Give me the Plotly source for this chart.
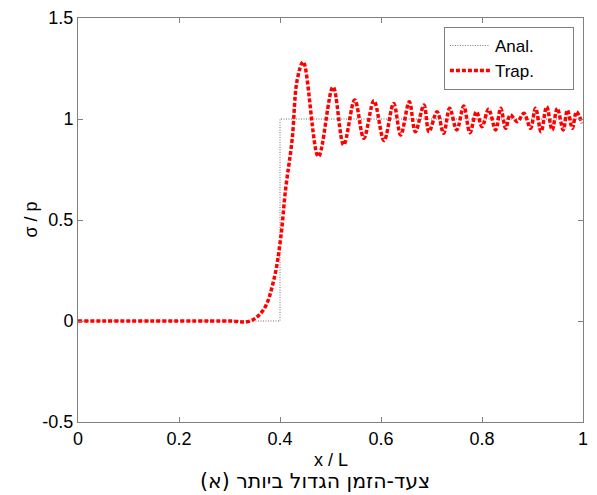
import plotly.graph_objects as go

# Analytical solution (step at x/L = 0.4)
anal_x = [0.0, 0.4, 0.4, 1.0]
anal_y = [0.0, 0.0, 1.0, 1.0]

# Trapezoidal solution
trap_x = [0.0, 0.30, 0.341, 0.368, 0.388, 0.401, 0.411, 0.424, 0.434, 0.446,
          0.476, 0.505, 0.526, 0.548, 0.566, 0.586, 0.606, 0.625, 0.639, 0.656,
          0.668, 0.685, 0.695, 0.711, 0.724, 0.736, 0.750, 0.764, 0.776, 0.789,
          0.800, 0.813, 0.827, 0.837, 0.847, 0.856, 0.870, 0.883, 0.896, 0.906,
          0.917, 0.928, 0.939, 0.949, 0.961, 0.969, 0.979, 0.987, 0.998]
trap_y = [0.0, 0.0, 0.0, 0.058, 0.206, 0.403, 0.650, 0.897, 1.193, 1.283,
          0.814, 1.159, 0.872, 1.094, 0.905, 1.090, 0.893, 1.077, 0.921, 1.085,
          0.937, 1.069, 0.937, 1.036, 0.929, 1.053, 0.946, 1.064, 0.932, 1.036,
          0.962, 1.048, 0.946, 1.053, 0.954, 1.020, 0.987, 1.028, 0.954, 1.053,
          0.937, 1.061, 0.946, 1.053, 0.946, 1.044, 0.954, 1.036, 0.979]

x_ticks = [0, 0.2, 0.4, 0.6, 0.8, 1]
x_labels = ["0", "0.2", "0.4", "0.6", "0.8", "1"]
y_ticks = [-0.5, 0, 0.5, 1, 1.5]
y_labels = ["-0.5", "0", "0.5", "1", "1.5"]

FONT = "Liberation Sans, Arial, sans-serif"
AX = "#808080"
PAD = "\u00a0" * 7

fig = go.Figure()
fig.add_trace(go.Scatter(x=anal_x, y=anal_y, mode="lines", name="Anal." + PAD,
                         line=dict(color="#707070", width=1, dash="1px,1.5px")))
fig.add_trace(go.Scatter(x=trap_x, y=trap_y, mode="lines", name="Trap." + PAD,
                         line=dict(color="#ff0000", width=3.5, dash="4px,2px",
                                   shape="spline", smoothing=1)))

axis_common = dict(showgrid=False, zeroline=False, showline=True, mirror="ticks",
                   linecolor=AX, linewidth=1, ticks="inside", ticklen=5,
                   tickcolor=AX, tickfont=dict(family=FONT, size=18, color="black"))

fig.update_layout(
    width=589, height=487,
    margin=dict(l=69.5, r=14.3, t=10.3, b=73, autoexpand=False),
    paper_bgcolor="white", plot_bgcolor="white",
    xaxis=dict(range=[0, 1], tickvals=x_ticks, ticktext=x_labels, **axis_common),
    yaxis=dict(range=[-0.5, 1.5], tickvals=y_ticks, ticktext=y_labels, **axis_common),
    showlegend=True,
    legend=dict(x=0.982, y=0.978, xanchor="right", yanchor="top",
                bgcolor="white", bordercolor=AX, borderwidth=1,
                font=dict(family=FONT, size=17, color="black"),
                itemwidth=40, tracegroupgap=0),
    annotations=[
        dict(text="x / L", xref="paper", yref="paper", x=0.5, y=-0.094,
             xanchor="center", yanchor="middle", showarrow=False,
             font=dict(family=FONT, size=18, color="black")),
        dict(text="σ / p", xref="paper", yref="paper", x=-0.094, y=0.5,
             xanchor="center", yanchor="middle", showarrow=False, textangle=-90,
             font=dict(family=FONT, size=18, color="black")),
        dict(text="(א) צעד-הזמן הגדול ביותר", xref="paper", yref="paper",
             x=0.470, y=-0.146, xanchor="center", yanchor="middle", showarrow=False,
             font=dict(family="DejaVu Sans, Noto Sans, sans-serif", size=20.5, color="black")),
    ],
)

fig.write_html("out.html")
